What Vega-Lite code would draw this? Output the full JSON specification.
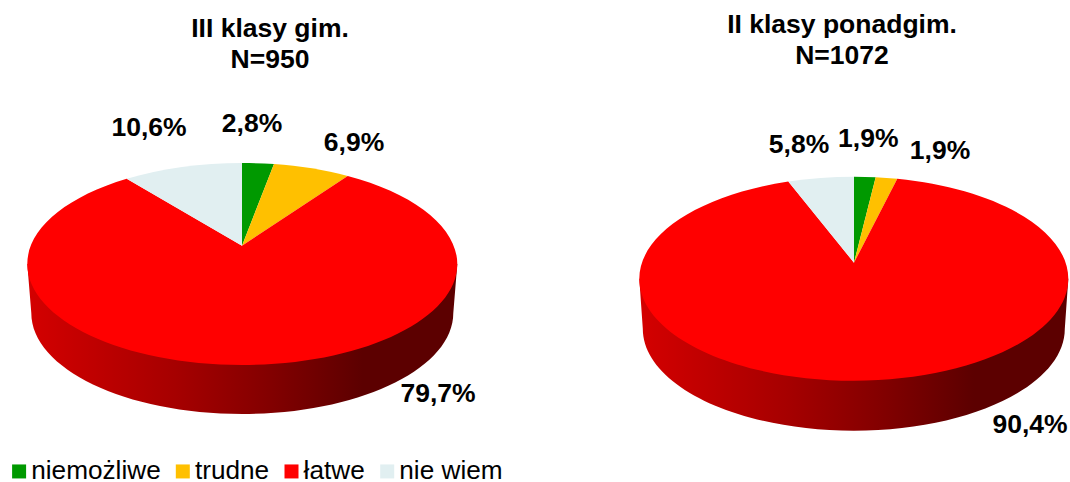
{
"$schema":"https://vega.github.io/schema/vega-lite/v6.json",
"width":1070,"height":482,"padding":0,"autosize":"none",
"background":"white",
"config":{"view":{"stroke":null},"text":{"font":"Liberation Sans"}},
"datasets":{
"wyniki":[
{"klasa":"III klasy gim.","odpowiedz":"niemożliwe","wycinek":"III niemożliwe","procent":2.8,"etykieta":"2,8%"},
{"klasa":"III klasy gim.","odpowiedz":"trudne","wycinek":"III trudne","procent":6.9,"etykieta":"6,9%"},
{"klasa":"III klasy gim.","odpowiedz":"łatwe","wycinek":"III łatwe","procent":79.7,"etykieta":"79,7%"},
{"klasa":"III klasy gim.","odpowiedz":"nie wiem","wycinek":"III nie wiem","procent":10.6,"etykieta":"10,6%"},
{"klasa":"II klasy ponadgim.","odpowiedz":"niemożliwe","wycinek":"II niemożliwe","procent":1.9,"etykieta":"1,9%"},
{"klasa":"II klasy ponadgim.","odpowiedz":"trudne","wycinek":"II trudne","procent":1.9,"etykieta":"1,9%"},
{"klasa":"II klasy ponadgim.","odpowiedz":"łatwe","wycinek":"II łatwe","procent":90.4,"etykieta":"90,4%"},
{"klasa":"II klasy ponadgim.","odpowiedz":"nie wiem","wycinek":"II nie wiem","procent":5.8,"etykieta":"5,8%"}
],
"tytuly":[
{"klasa":"III klasy gim.","tytul":"III klasy gim.\nN=950"},
{"klasa":"II klasy ponadgim.","tytul":"II klasy ponadgim.\nN=1072"}
]},
"data":{"name":"wyniki"},
"encoding":{
"x":{"field":"klasa","type":"nominal","axis":null,"scale":{"type":"point","padding":0,"domain":["III klasy gim.","II klasy ponadgim."],"range":[242,854]}},
"y":{"field":"klasa","type":"nominal","axis":null,"scale":{"type":"point","padding":0,"domain":["III klasy gim.","II klasy ponadgim."],"range":[245.7,262.7]}}
},
"resolve":{"scale":{"x":"independent","y":"independent","shape":"independent","color":"independent"}},
"layer":[
{"transform":[{"filter":"datum.odpowiedz==='łatwe'"}],
 "mark":{"type":"point","filled":true,"size":4,"opacity":1,"strokeWidth":0,
  "fill":{"gradient":"linear","x1":0,"y1":0,"x2":1,"y2":0,"stops":[{"offset":0,"color":"#d40000"},{"offset":0.35,"color":"#a50000"},{"offset":0.55,"color":"#850000"},{"offset":0.78,"color":"#5c0000"},{"offset":1,"color":"#5c0000"}]}},
 "encoding":{"shape":{"field":"klasa","type":"nominal","legend":null,"scale":{"domain":["III klasy gim.","II klasy ponadgim."],"range":[
  "M-214.7,18.3 L-210.7,67.3 A211,101 0 0 0 211.3,67.3 L215.3,18.3 Z",
  "M-214.7,16 L-211.2,66 A211,102 0 0 0 210.8,66 L214.3,16 Z"]}}}},
{"mark":{"type":"point","filled":true,"size":4,"opacity":1,"strokeWidth":0},
 "encoding":{
  "color":{"field":"odpowiedz","type":"nominal","scale":{"domain":["niemożliwe","trudne","łatwe","nie wiem"],"range":["#009900","#FFC000","#FF0000","#E1EFF1"]},
   "legend":{"title":null,"orient":"none","legendX":6,"legendY":458,"direction":"horizontal","columns":4,"columnPadding":8.7,"symbolType":"square","symbolSize":196,"symbolStrokeWidth":0,"labelFont":"Liberation Sans","labelFontSize":26.2,"labelColor":"#000000","labelOffset":-1,"padding":0}},
  "shape":{"field":"wycinek","type":"nominal","legend":null,"scale":{"domain":["III niemożliwe","III trudne","III łatwe","III nie wiem","II niemożliwe","II trudne","II łatwe","II nie wiem"],"range":[
   "M0,0 L0,-82.7 A215,101 0 0 1 32,-81.6 Z",
   "M0,0 L32,-81.6 A215,101 0 0 1 105.7,-69.73 Z",
   "M0,0 L105.7,-69.73 A215,101 0 0 1 215.3,18.3 A215,101 0 0 1 -214.7,18.3 A215,101 0 0 1 -115.3,-66.86 Z",
   "M0,0 L-115.3,-66.86 A215,101 0 0 1 0,-82.7 Z",
   "M0,0 L0,-86 A214.5,102 0 0 1 21.7,-85.47 Z",
   "M0,0 L21.7,-85.47 A214.5,102 0 0 1 43.3,-83.88 Z",
   "M0,0 L43.3,-83.88 A214.5,102 0 0 1 214.3,16 A214.5,102 0 0 1 -214.7,16 A214.5,102 0 0 1 -65.7,-81.13 Z",
   "M0,0 L-65.7,-81.13 A214.5,102 0 0 1 0,-86 Z"]}}}},
{"data":{"name":"tytuly"},
 "mark":{"type":"text","font":"Liberation Sans","fontWeight":"bold","fontSize":26.5,"align":"center","baseline":"alphabetic","lineBreak":"\n","lineHeight":31,"color":"#000000"},
 "encoding":{"text":{"field":"tytul"},
  "x":{"field":"klasa","type":"nominal","axis":null,"scale":{"type":"point","padding":0,"domain":["III klasy gim.","II klasy ponadgim."],"range":[270,842]}},
  "y":{"field":"klasa","type":"nominal","axis":null,"scale":{"type":"point","padding":0,"domain":["III klasy gim.","II klasy ponadgim."],"range":[37,33]}}}},
{"transform":[{"filter":"datum.wycinek==='III niemożliwe'"}],"mark":{"type":"text","font":"Liberation Sans","fontWeight":"bold","fontSize":26.5,"baseline":"middle","color":"#000000","dx":10,"dy":-121.7},"encoding":{"text":{"field":"etykieta"}}},
{"transform":[{"filter":"datum.wycinek==='III trudne'"}],"mark":{"type":"text","font":"Liberation Sans","fontWeight":"bold","fontSize":26.5,"baseline":"middle","color":"#000000","dx":112,"dy":-102.4},"encoding":{"text":{"field":"etykieta"}}},
{"transform":[{"filter":"datum.wycinek==='III łatwe'"}],"mark":{"type":"text","font":"Liberation Sans","fontWeight":"bold","fontSize":26.5,"baseline":"middle","color":"#000000","dx":196,"dy":148.3},"encoding":{"text":{"field":"etykieta"}}},
{"transform":[{"filter":"datum.wycinek==='III nie wiem'"}],"mark":{"type":"text","font":"Liberation Sans","fontWeight":"bold","fontSize":26.5,"baseline":"middle","color":"#000000","dx":-93,"dy":-117.4},"encoding":{"text":{"field":"etykieta"}}},
{"transform":[{"filter":"datum.wycinek==='II niemożliwe'"}],"mark":{"type":"text","font":"Liberation Sans","fontWeight":"bold","fontSize":26.5,"baseline":"middle","color":"#000000","dx":14.3,"dy":-123.4},"encoding":{"text":{"field":"etykieta"}}},
{"transform":[{"filter":"datum.wycinek==='II trudne'"}],"mark":{"type":"text","font":"Liberation Sans","fontWeight":"bold","fontSize":26.5,"baseline":"middle","color":"#000000","dx":86,"dy":-112},"encoding":{"text":{"field":"etykieta"}}},
{"transform":[{"filter":"datum.wycinek==='II łatwe'"}],"mark":{"type":"text","font":"Liberation Sans","fontWeight":"bold","fontSize":26.5,"baseline":"middle","color":"#000000","dx":176,"dy":162.3},"encoding":{"text":{"field":"etykieta"}}},
{"transform":[{"filter":"datum.wycinek==='II nie wiem'"}],"mark":{"type":"text","font":"Liberation Sans","fontWeight":"bold","fontSize":26.5,"baseline":"middle","color":"#000000","dx":-55,"dy":-117.7},"encoding":{"text":{"field":"etykieta"}}}
]
}
